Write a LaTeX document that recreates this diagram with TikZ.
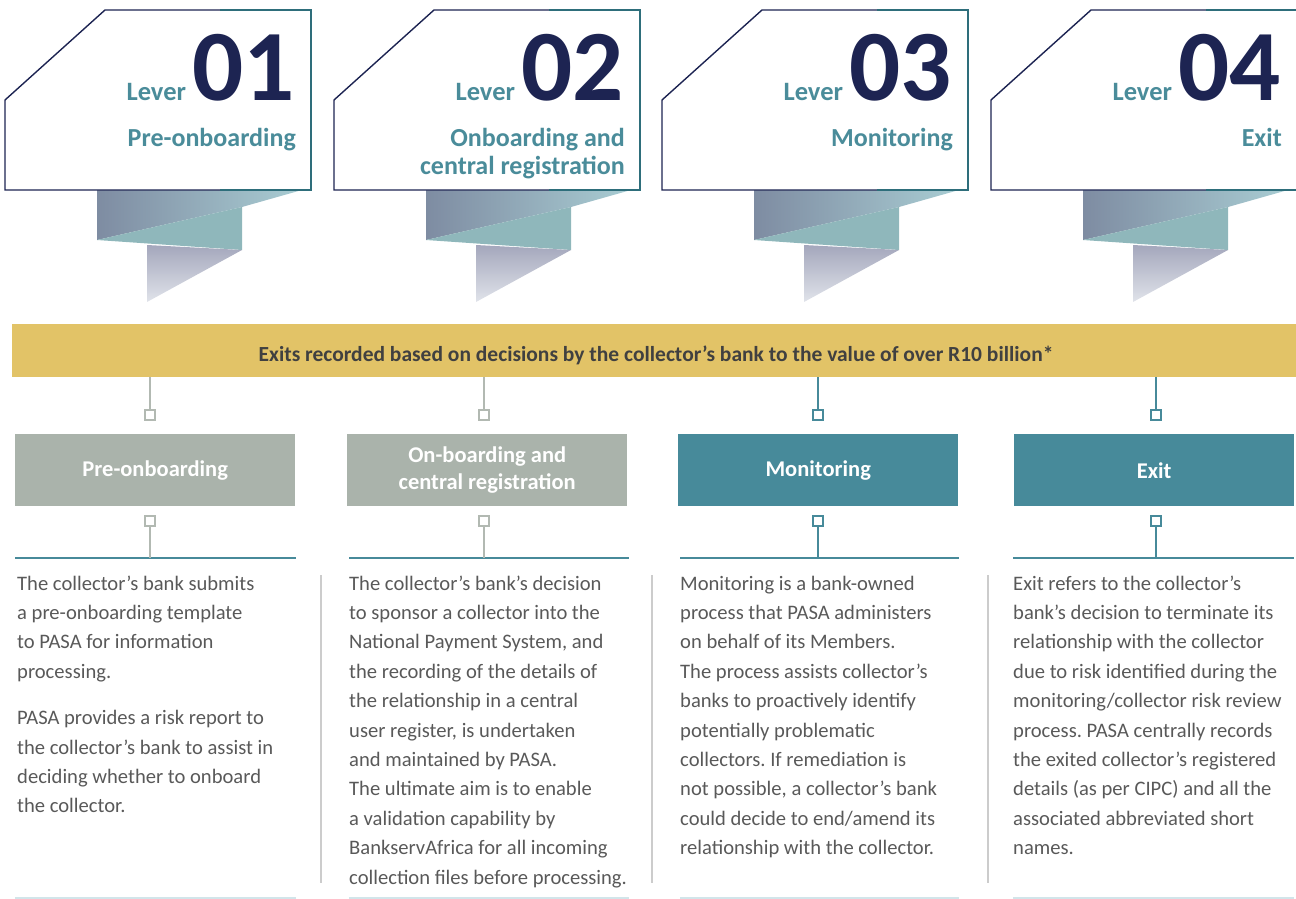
\documentclass[tikz,border=0pt]{standalone}
\usepackage{fontspec}
\setmainfont{Carlito}
\usetikzlibrary{positioning}
\frenchspacing
\definecolor{navy}{HTML}{1D2452}
\definecolor{edgeteal}{HTML}{2E6E7B}
\definecolor{leverteal}{HTML}{4A8C9A}
\definecolor{gold}{HTML}{E2C367}
\definecolor{bartext}{HTML}{404040}
\definecolor{sage}{HTML}{AAB3AB}
\definecolor{sageline}{HTML}{B2B9B2}
\definecolor{stageteal}{HTML}{478A9A}
\definecolor{bodygray}{HTML}{595959}
\definecolor{sepgray}{HTML}{CCCCCC}
\definecolor{footline}{HTML}{D2E5EA}
\definecolor{ribA}{HTML}{7E8CA2}
\definecolor{ribB}{HTML}{A9CDD3}
\definecolor{ribfold}{HTML}{8FB7BB}
\definecolor{ribC}{HTML}{A4A7BC}
\definecolor{ribD}{HTML}{E0E3EA}

\begin{document}
\begin{tikzpicture}[x=1pt,y=-1pt,
        lever/.style={fill=white,draw=navy,line width=1.4pt},
        levertxt/.style={text=leverteal,font=\fontsize{26.5}{28}\selectfont\bfseries,inner sep=0pt},
        levernum/.style={text=navy,font=\fontsize{101}{101}\selectfont\bfseries,inner sep=0pt,anchor=base east},
        levertitle/.style={text=leverteal,font=\fontsize{26}{28}\selectfont\bfseries,inner sep=0pt,align=right,anchor=base east},
        stagebox/.style={minimum width=280pt,minimum height=72pt,inner sep=0pt,anchor=north west,text=white,align=center,font=\fontsize{22.5}{27}\selectfont\bfseries},
        plug/.style={draw,fill=white,line width=2.2pt,minimum size=10pt,inner sep=0pt},
        link/.style={line width=2.2pt},
        rule/.style={draw=stageteal,line width=2pt},
        foot/.style={draw=footline,line width=1.5pt},
        sep/.style={draw=sepgray,line width=1.8pt},
        body/.style={text=bodygray,font=\fontsize{20.6}{29.4}\selectfont,align=left,inner sep=0pt,anchor=north west}]

    \useasboundingbox (0,0) rectangle (1296,899);

    \foreach \dx/\num/\ty/\title in {0/01/146/Pre-onboarding,329/02/174/{Onboarding and\\central registration},657/03/146/Monitoring,986/04/146/Exit}{
        \begin{scope}[xshift=\dx pt]
            \shade[left color=ribA,right color=ribB] (97,190) -- (302,190) -- (242,207) -- (97,240) -- cycle;
            \fill[ribfold] (97,240) -- (242,207) -- (242,250) -- cycle;
            \shade[top color=ribC,bottom color=ribD] (147,245) -- (242,250) -- (147,302) -- cycle;
            \draw[lever] (5,100) -- (105,10) -- (311,10) -- (311,190) -- (5,190) -- cycle;
            \draw[edgeteal,line width=1.4pt] (220,10) -- (311,10) -- (311,190) -- (220,190);
            \node[levernum] (num\num) at (295,100) {\num};
            \node[levertxt,base left=6pt of num\num] (lev\num) {Lever};
            \node[levertitle] (title\num) at (296,\ty) {\title};
        \end{scope}
    }

    \node[fill=gold,minimum width=1284pt,minimum height=53pt,inner sep=0pt,anchor=north west] (bar) at (12,324) {};
    \node[text=bartext,font=\fontsize{21.5}{24}\selectfont\bfseries,inner sep=0pt,anchor=base] (bartext) at (656,361)
        {Exits recorded based on decisions by the collector’s bank to the value of over R10 billion*};

    \node[stagebox,fill=sage] (box1) at (15,434) {Pre-onboarding};
    \node[stagebox,fill=sage] (box2) at (347,434) {On-boarding and\\central registration};
    \node[stagebox,fill=stageteal] (box3) at (678,434) {Monitoring};
    \node[stagebox,fill=stageteal] (box4) at (1014,434) {Exit};

    \coordinate (rule1w) at (15,558);  \coordinate (rule1e) at (296,558);
    \coordinate (rule2w) at (349,558); \coordinate (rule2e) at (629,558);
    \coordinate (rule3w) at (680,558); \coordinate (rule3e) at (959,558);
    \coordinate (rule4w) at (1013,558); \coordinate (rule4e) at (1294,558);
    \foreach \i in {1,...,4}{
        \draw[rule] (rule\i w) -- (rule\i e);
        \draw[foot] ([yshift=-340pt]rule\i w) -- ([yshift=-340pt]rule\i e);
    }

    \foreach \i/\cx/\col in {1/150/sageline,2/484/sageline,3/818/stageteal,4/1156/stageteal}{
        \node[plug,draw=\col] (plugA\i) at (\cx,415) {};
        \node[plug,draw=\col] (plugB\i) at (\cx,521) {};
        \draw[link,\col] (plugA\i |- bar.south) -- (plugA\i);
        \draw[link,\col] (plugB\i) -- (plugB\i |- rule\i w);
    }

    \draw[sep] (321,575) -- (321,883);
    \draw[sep] (652,575) -- (652,883);
    \draw[sep] (988,575) -- (988,883);

    \node[body] (text1) at (17,569.4) {\strut The collector’s bank submits\\a pre-onboarding template\\to PASA for information\\processing.\\[17pt]PASA provides a risk report to\\the collector’s bank to assist in\\deciding whether to onboard\\the collector.};
    \node[body] (text2) at (349,569.4) {\strut The collector’s bank’s decision\\to sponsor a collector into the\\National Payment System, and\\the recording of the details of\\the relationship in a central\\user register, is undertaken\\and maintained by PASA.\\The ultimate aim is to enable\\a validation capability by\\BankservAfrica for all incoming\\collection files before processing.};
    \node[body] (text3) at (680,569.4) {\strut Monitoring is a bank-owned\\process that PASA administers\\on behalf of its Members.\\The process assists collector’s\\banks to proactively identify\\potentially problematic\\collectors. If remediation is\\not possible, a collector’s bank\\could decide to end/amend its\\relationship with the collector.};
    \node[body] (text4) at (1013,569.4) {\strut Exit refers to the collector’s\\bank’s decision to terminate its\\relationship with the collector\\due to risk identified during the\\monitoring/collector risk review\\process. PASA centrally records\\the exited collector’s registered\\details (as per CIPC) and all the\\associated abbreviated short\\names.};
\end{tikzpicture}
\end{document}
